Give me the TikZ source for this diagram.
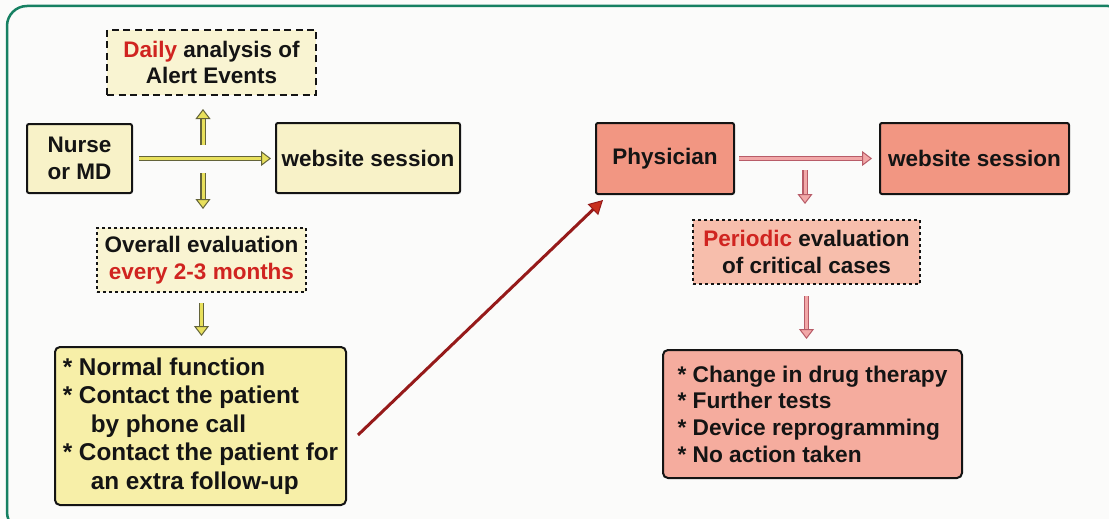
\documentclass[tikz,border=0pt]{standalone}
\usepackage{fontspec}
\setmainfont{Liberation Sans}
\usetikzlibrary{arrows.meta}

\definecolor{frameGreen}{RGB}{22,128,98}
\definecolor{bgWhite}{RGB}{251,251,250}
\definecolor{yHead}{RGB}{248,242,200}
\definecolor{yList}{RGB}{247,239,168}
\definecolor{yNote}{RGB}{249,244,210}
\definecolor{yEdge}{RGB}{100,100,58}
\definecolor{yIn}{RGB}{232,224,92}
\definecolor{pHead}{RGB}{242,150,130}
\definecolor{pList}{RGB}{245,172,158}
\definecolor{pNote}{RGB}{247,190,172}
\definecolor{pEdge}{RGB}{184,92,104}
\definecolor{pIn}{RGB}{242,168,168}
\definecolor{txtRed}{RGB}{208,36,32}
\definecolor{lineRed}{RGB}{150,26,26}
\definecolor{headRed}{RGB}{200,48,30}
\definecolor{ink}{RGB}{20,20,20}

\newcommand\hdfont{\fontsize{22.5}{26.5}\selectfont\bfseries}
\newcommand\listLfont{\fontsize{24.3}{28.5}\selectfont\bfseries}
\newcommand\listRfont{\fontsize{22.7}{26.7}\selectfont\bfseries}

\begin{document}
\begin{tikzpicture}[x=1pt,y=-1pt,
  boxbase/.style={draw=ink, line width=2pt, inner sep=0pt, text=ink, align=center, font=\hdfont},
  ybox/.style={boxbase, fill=yHead, rounded corners=2pt},
  pbox/.style={boxbase, fill=pHead, rounded corners=2pt},
  ydash/.style={boxbase, fill=yNote, dash pattern=on 7pt off 4.5pt},
  ydot/.style={boxbase, fill=yNote, dash pattern=on 3pt off 3pt},
  pdot/.style={boxbase, fill=pNote, dash pattern=on 3pt off 3pt},
  ylist/.style={boxbase, fill=yList, rounded corners=5pt, align=left, font=\listLfont},
  plist/.style={boxbase, fill=pList, rounded corners=5pt, align=left, font=\listRfont},
  yarrow/.style={draw=yEdge, line width=1.1pt, double=yIn, double distance=3pt,
    -{Triangle[length=10pt,width=15pt,fill=yIn,line width=1pt]}},
  parrow/.style={draw=pEdge, line width=1.1pt, double=pIn, double distance=3pt,
    -{Triangle[length=10pt,width=15pt,fill=pIn,line width=1pt]}},
  redarrow/.style={draw=lineRed, line width=3pt,
    -{Triangle[length=14pt,width=15pt,fill=headRed,line width=1pt]}}
]
\useasboundingbox (0,0) rectangle (1109,519);
\clip (0,0) rectangle (1109,519);
\fill[bgWhite] (0,0) rectangle (1109,519);
\draw[frameGreen, line width=2.5pt, rounded corners=20pt] (7,6) rectangle (1128,532);

% Nurse / MD branch
\node[ydash, minimum width=209pt, minimum height=65pt] (daily) at (211.5,62.5)
  {\textcolor{txtRed}{Daily} analysis of\\Alert Events};
\node[ybox, minimum width=105pt, minimum height=69pt] (nurse) at (79.5,158.5) {Nurse\\or MD};
\node[ybox, minimum width=184pt, minimum height=70pt] (web1) at (368,158) {website session};
\node[ydot, minimum width=209pt, minimum height=64pt] (overall) at (201.5,260)
  {Overall evaluation\\\textcolor{txtRed}{every 2-3 months}};
\node[ylist, minimum width=291pt, minimum height=158pt] (listL) at (200.5,426)
  {* Normal function\\
   * Contact the patient\\
   \hspace*{28pt}by phone call\\
   * Contact the patient for\\
   \hspace*{28pt}an extra follow-up};

% Physician branch
\node[pbox, minimum width=138pt, minimum height=71pt] (phys) at (665,158.5) {Physician};
\node[pbox, minimum width=189pt, minimum height=71pt] (web2) at (974.5,158.5) {website session};
\node[pdot, minimum width=227pt, minimum height=64pt] (periodic) at (806.5,252)
  {\textcolor{txtRed}{Periodic} evaluation\\of critical cases};
\node[plist, minimum width=299pt, minimum height=128pt] (listR) at (812.5,414)
  {* Change in drug therapy\\
   * Further tests\\
   * Device reprogramming\\
   * No action taken};

% connectors, yellow side
\coordinate (hub) at (203,157);
\draw[yarrow, shorten <=6pt, shorten >=4pt] (nurse.east) -- (nurse.east -| web1.west);
\draw[yarrow, shorten <=12pt, shorten >=13pt] (hub) -- (hub |- daily.south);
\draw[yarrow, shorten <=16pt, shorten >=18pt] (hub) -- (hub |- overall.north);
\draw[yarrow, shorten <=10pt, shorten >=10pt] (overall.south) -- (overall.south |- listL.north);

% connectors, pink side
\coordinate (hub2) at (805,157);
\draw[parrow, shorten <=4pt, shorten >=7pt] (phys.east) -- (phys.east -| web2.west);
\draw[parrow, shorten <=13pt, shorten >=15pt] (hub2) -- (hub2 |- periodic.north);
\draw[parrow, shorten <=11pt, shorten >=10pt] (periodic.south) -- (periodic.south |- listR.north);

% escalation to the physician
\coordinate (dstart) at (358,435);
\coordinate (dend) at (603,200);
\draw[redarrow] (dstart) -- (dend);
\end{tikzpicture}
\end{document}
